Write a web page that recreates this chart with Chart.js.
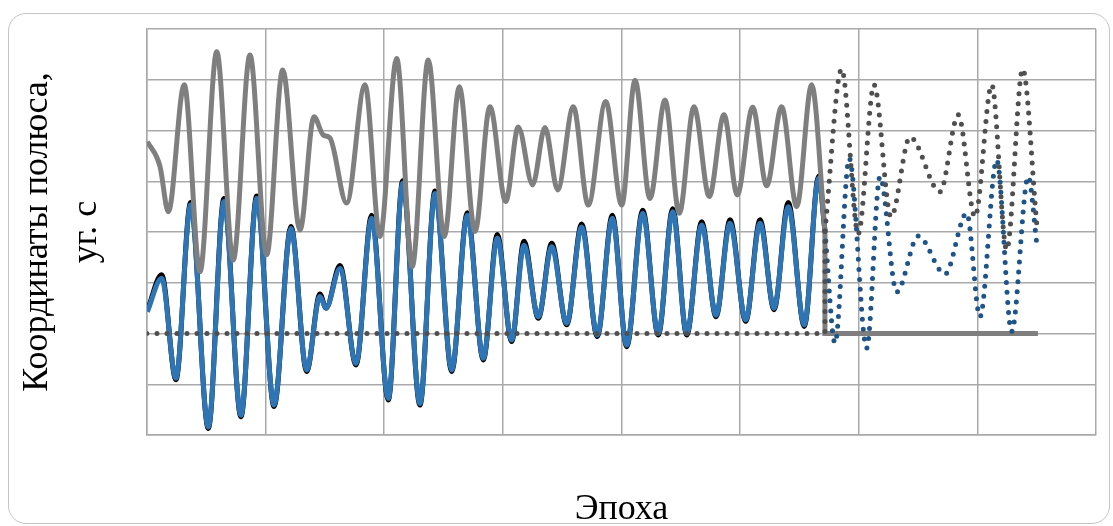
<!DOCTYPE html>
<html>
<head>
<meta charset="utf-8">
<script src="https://cdn.jsdelivr.net/npm/chart.js@4/dist/chart.umd.min.js"></script>
<style>
  html, body { margin: 0; padding: 0; background: #ffffff; }
  #wrap { position: relative; width: 1113px; height: 526px; overflow: hidden; }
  #frame { position: absolute; left: 8px; top: 13px; width: 1100px; height: 509px;
           border: 1.5px solid #c4c4c4; border-radius: 18px; }
  #c { position: absolute; left: 0; top: 0; }
</style>
</head>
<body>
<div id="wrap">
  <div id="frame"></div>
  <canvas id="c" width="1113" height="526"></canvas>
</div>
<script>
// Upper curve (grey, observed)
const upperT = [0.003, 0.110, 0.180, 0.314, 0.447, 0.588, 0.727, 0.868, 1.009, 1.144,
                1.290, 1.408, 1.486, 1.543, 1.683, 1.838, 1.964, 2.105, 2.236, 2.371,
                2.506, 2.633, 2.765, 2.891, 3.024, 3.130, 3.251, 3.355, 3.462, 3.594,
                3.720, 3.867, 4.002, 4.114, 4.240, 4.367, 4.487, 4.611, 4.740, 4.864,
                4.976, 5.106, 5.224, 5.350, 5.477, 5.603, 5.715];
const upperV = [3.78, 3.29, 2.40, 4.90, 1.22, 5.55, 1.45, 5.49, 1.55, 5.19,
                2.04, 4.27, 3.91, 3.85, 2.57, 4.90, 1.91, 5.42, 1.32, 5.39,
                1.91, 4.86, 2.01, 4.47, 2.60, 4.07, 2.93, 4.06, 2.83, 4.47,
                2.53, 4.57, 2.53, 4.99, 2.66, 4.60, 2.37, 4.47, 2.70, 4.31,
                2.73, 4.46, 2.91, 4.47, 2.50, 4.90, 2.02];
// Grey tail after the end of observations
const upperTailT = [5.715, 5.715, 7.51];
const upperTailV = [2.02, 0, 0];

// Lower curve (blue, observed) and its black reference copy
const lowerT = [0.003, 0.124, 0.244, 0.368, 0.517, 0.649, 0.792, 0.925, 1.071, 1.214,
                1.346, 1.458, 1.509, 1.627, 1.762, 1.894, 2.034, 2.156, 2.301, 2.428,
                2.569, 2.700, 2.835, 2.953, 3.074, 3.178, 3.299, 3.412, 3.538, 3.664,
                3.796, 3.923, 4.044, 4.179, 4.310, 4.432, 4.550, 4.676, 4.797, 4.915,
                5.047, 5.168, 5.286, 5.406, 5.541, 5.662, 5.715];
const lowerV = [0.43, 1.09, -0.88, 2.53, -1.84, 2.60, -1.61, 2.66, -1.41, 2.07,
                -0.72, 0.73, 0.50, 1.28, -0.59, 2.27, -1.28, 2.96, -1.38, 2.76,
                -0.72, 2.33, -0.49, 1.88, -0.13, 1.74, 0.33, 1.71, 0.20, 2.10,
                -0.03, 2.27, -0.23, 2.37, 0.00, 2.40, 0.00, 2.14, 0.36, 2.17,
                0.27, 2.17, 0.50, 2.50, 0.17, 3.06, 2.02];
const lowerRefV = [0.45, 1.16, -0.91, 2.58, -1.87, 2.66, -1.64, 2.71, -1.44, 2.11,
                -0.75, 0.78, 0.50, 1.34, -0.62, 2.33, -1.31, 3.01, -1.41, 2.81,
                -0.75, 2.38, -0.52, 1.95, -0.16, 1.82, 0.30, 1.78, 0.17, 2.16,
                -0.06, 2.33, -0.26, 2.43, -0.03, 2.46, -0.03, 2.20, 0.33, 2.24,
                0.24, 2.24, 0.47, 2.58, 0.14, 3.10, 2.02];

// Zero baseline (dotted) before the forecast
const zeroT = [0, 5.715, 5.715];
const zeroV = [0, 0, 2.02];

// Forecasts (dotted)
const upperFcT = [5.715, 5.856, 5.996, 6.129, 6.272, 6.432, 6.685, 6.839, 6.980, 7.121, 7.247, 7.382, 7.500];
const upperFcV = [2.02, 5.21, 1.97, 4.90, 2.30, 3.87, 2.79, 4.31, 2.30, 4.90, 1.65, 5.21, 2.17];
const lowerFcT = [5.715, 5.800, 5.920, 6.067, 6.179, 6.320, 6.502, 6.727, 6.910, 7.022, 7.163, 7.289, 7.429, 7.500];
const lowerFcV = [2.02, -0.19, 3.45, -0.29, 3.09, 0.82, 1.92, 1.17, 2.37, 0.33, 3.42, 0.04, 3.09, 1.79];

// Axis grid
const xTicks = [0, 1, 2, 3, 4, 5, 6, 7, 8];
const yTicks = [-2, -1, 0, 1, 2, 3, 4, 5, 6];

const pts = (t, v) => t.map((x, i) => ({ x: x, y: v[i] }));

const gridColor = '#a9a9a9';
const serif = '"Liberation Serif", "DejaVu Serif", serif';

new Chart(document.getElementById('c'), {
  type: 'line',
  data: {
    datasets: [
      { label: 'zero', data: pts(zeroT, zeroV), borderColor: '#4f4f4f', borderWidth: 5,
        borderDash: [0, 10], borderCapStyle: 'round', tension: 0, pointRadius: 0, order: 0 },
      { label: 'upperFc', data: pts(upperFcT, upperFcV), borderColor: '#4f4f4f', borderWidth: 5,
        borderDash: [0, 10], borderCapStyle: 'round', cubicInterpolationMode: 'monotone', pointRadius: 0, order: 0 },
      { label: 'lowerFc', data: pts(lowerFcT, lowerFcV), borderColor: '#1f5488', borderWidth: 5,
        borderDash: [0, 10], borderCapStyle: 'round', cubicInterpolationMode: 'monotone', pointRadius: 0, order: 1 },
      { label: 'upperTail', data: pts(upperTailT, upperTailV), borderColor: '#7f7f7f', borderWidth: 5,
        tension: 0, pointRadius: 0, order: 2 },
      { label: 'upper', data: pts(upperT, upperV), borderColor: '#7f7f7f', borderWidth: 5,
        cubicInterpolationMode: 'monotone', pointRadius: 0, order: 2 },
      { label: 'lower', data: pts(lowerT, lowerV), borderColor: '#2e75b6', borderWidth: 5,
        cubicInterpolationMode: 'monotone', pointRadius: 0, order: 3 },
      { label: 'lowerRef', data: pts(lowerT, lowerRefV), borderColor: '#000000', borderWidth: 5,
        cubicInterpolationMode: 'monotone', pointRadius: 0, order: 4 }
    ]
  },
  options: {
    responsive: false,
    animation: false,
    events: [],
    layout: { padding: { left: 0, right: 17, top: 29, bottom: 0 } },
    plugins: { legend: { display: false }, tooltip: { enabled: false } },
    scales: {
      x: {
        type: 'linear', min: 0, max: 8,
        afterBuildTicks: (s) => { s.ticks = xTicks.map(v => ({ value: v })); },
        ticks: { display: false },
        grid: { color: gridColor, lineWidth: 1.5, drawTicks: false },
        border: { color: gridColor, width: 1.5 },
        title: { display: true, text: 'Эпоха', color: '#000000',
                 font: { family: serif, size: 36, lineHeight: 0.9 },
                 padding: { top: 58.6, bottom: 0 } }
      },
      y: {
        type: 'linear', min: -2, max: 6,
        afterBuildTicks: (s) => { s.ticks = yTicks.map(v => ({ value: v })); },
        ticks: { display: false },
        grid: { color: gridColor, lineWidth: 1.5, drawTicks: false },
        border: { color: gridColor, width: 1.5 },
        title: { display: true, text: ['Координаты полюса,', 'уг. с'], color: '#000000',
                 font: { family: serif, size: 36, lineHeight: 1.34 },
                 padding: { top: 13.7, bottom: 36.8 } }
      }
    }
  }
});
</script>
</body>
</html>
